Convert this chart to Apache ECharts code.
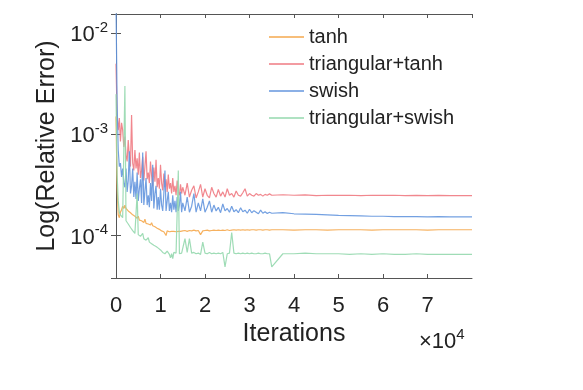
<!DOCTYPE html>
<html>
<head>
<meta charset="utf-8">
<title>Log(Relative Error)</title>
<script src="https://cdn.jsdelivr.net/npm/echarts@6/dist/echarts.min.js"></script>
<style>
  html, body { margin: 0; padding: 0; background: #fff; }
  #chart { width: 583px; height: 390px; }
</style>
</head>
<body>
<div id="chart"></div>
<script>
// iterations (x)
const iters = [
  0, 250, 500, 750, 1000, 1250, 1500, 1750, 2000, 2250,
  2500, 2750, 3000, 3250, 3500, 3750, 4000, 4250, 4500, 4750,
  5000, 5250, 5500, 5750, 6000, 6250, 6500, 6750, 7000, 7250,
  7500, 7750, 8000, 8250, 8500, 8750, 9000, 9250, 9500, 9750,
  10000, 10250, 10500, 10750, 11000, 11250, 11500, 11750, 12000, 12250,
  12500, 12750, 13000, 13250, 13500, 13750, 14000, 14250, 14500, 14750,
  15000,
  15500, 16000, 16500, 17000, 17500, 18000, 18500, 19000, 19500, 20000,
  20500, 21000, 21500, 22000, 22500, 23000, 23500, 24000, 24500, 25000,
  25500, 26000, 26500, 27000, 27500, 28000, 28500, 29000, 29500, 30000,
  30500, 31000, 31500, 32000, 32500, 33000, 33500, 34000, 34500, 35000,
  37500, 40000, 42500, 45000, 47500, 50000, 52500, 55000, 57500, 60000,
  62500, 65000, 67500, 70000, 72500, 75000, 77500, 80000
]

const tanh = [
  1.5e-3, 3e-4, 1.6e-4, 1.5e-4, 1.7e-4, 1.8e-4, 1.95e-4, 1.85e-4, 2.0e-4, 1.85e-4,
  1.9e-4, 1.75e-4, 1.8e-4, 1.68e-4, 1.72e-4, 1.6e-4, 1.66e-4, 1.55e-4, 1.6e-4, 1.48e-4,
  1.55e-4, 1.42e-4, 1.48e-4, 1.4e-4, 1.46e-4, 1.34e-4, 1.45e-4, 1.32e-4, 1.38e-4, 1.3e-4,
  1.36e-4, 1.27e-4, 1.34e-4, 1.25e-4, 1.3e-4, 1.22e-4, 1.27e-4, 1.18e-4, 1.22e-4, 1.15e-4,
  1.17e-4, 1.11e-4, 1.13e-4, 1.09e-4, 1.12e-4, 1.0e-4, 1.11e-4, 1.13e-4, 1.09e-4, 1.12e-4,
  1.1e-4, 1.13e-4, 1.1e-4, 1.12e-4, 1.09e-4, 1.13e-4, 1.1e-4, 1.12e-4, 1.1e-4, 1.12e-4,
  1.11e-4,
  1.12e-4, 1.1e-4, 1.12e-4, 1.11e-4, 1.13e-4, 1.11e-4, 1.12e-4, 1.02e-4, 1.11e-4, 1.12e-4,
  1.13e-4, 1.11e-4, 1.12e-4, 1.13e-4, 1.12e-4, 1.13e-4, 1.12e-4, 1.13e-4, 1.12e-4, 1.14e-4,
  1.12e-4, 1.13e-4, 1.14e-4, 1.13e-4, 1.14e-4, 1.13e-4, 1.14e-4, 1.13e-4, 1.14e-4, 1.13e-4,
  1.14e-4, 1.14e-4, 1.13e-4, 1.14e-4, 1.14e-4, 1.13e-4, 1.14e-4, 1.14e-4, 1.13e-4, 1.14e-4,
  1.14e-4, 1.13e-4, 1.14e-4, 1.14e-4, 1.13e-4, 1.14e-4, 1.14e-4, 1.14e-4, 1.13e-4, 1.14e-4,
  1.14e-4, 1.14e-4, 1.14e-4, 1.13e-4, 1.14e-4, 1.14e-4, 1.14e-4, 1.14e-4
]

const triTanh = [
  5e-3, 1.5e-3, 1.1e-3, 1.45e-3, 8.5e-4, 1.3e-3, 1.1e-3, 7.5e-4, 9.5e-4, 6.2e-4,
  5.4e-4, 8.8e-4, 6.0e-4, 4.8e-4, 1.55e-3, 5.2e-4, 4.4e-4, 7.0e-4, 4.6e-4, 5.8e-4,
  4.0e-4, 6.6e-4, 3.7e-4, 4.4e-4, 6.0e-4, 3.5e-4, 4.8e-4, 6.8e-4, 3.6e-4, 4.2e-4,
  3.3e-4, 5.4e-4, 3.9e-4, 3.1e-4, 4.7e-4, 3.4e-4, 5.6e-4, 3.0e-4, 3.7e-4, 2.9e-4,
  5.0e-4, 3.3e-4, 2.8e-4, 4.1e-4, 3.0e-4, 3.6e-4, 2.7e-4, 4.0e-4, 2.9e-4, 3.3e-4,
  2.6e-4, 3.7e-4, 2.7e-4, 3.1e-4, 2.5e-4, 3.5e-4, 2.7e-4, 2.5e-4, 3.2e-4, 2.6e-4,
  3.0e-4,
  2.5e-4, 3.3e-4, 2.4e-4, 2.8e-4, 3.1e-4, 2.35e-4, 2.7e-4, 3.2e-4, 2.4e-4, 2.9e-4,
  2.5e-4, 2.35e-4, 3.0e-4, 2.6e-4, 2.4e-4, 2.85e-4, 2.45e-4, 2.7e-4, 2.4e-4, 2.9e-4,
  2.5e-4, 2.6e-4, 2.4e-4, 2.75e-4, 2.5e-4, 2.45e-4, 2.65e-4, 2.9e-4, 2.45e-4, 2.6e-4,
  2.5e-4, 2.45e-4, 2.6e-4, 2.5e-4, 2.55e-4, 2.45e-4, 2.55e-4, 2.5e-4, 2.58e-4, 2.5e-4,
  2.53e-4, 2.5e-4, 2.52e-4, 2.48e-4, 2.5e-4, 2.49e-4, 2.5e-4, 2.48e-4, 2.5e-4, 2.49e-4,
  2.5e-4, 2.48e-4, 2.49e-4, 2.48e-4, 2.49e-4, 2.48e-4, 2.48e-4, 2.48e-4
]

const swish = [
  2e-2, 2e-3, 7e-4, 4.8e-4, 5.2e-4, 3.8e-4, 4.6e-4, 3.3e-4, 3.0e-4, 4.6e-4,
  2.7e-4, 3.5e-4, 6.8e-4, 2.6e-4, 3.1e-4, 4.6e-4, 2.4e-4, 3.4e-4, 2.3e-4, 4.2e-4,
  2.2e-4, 2.9e-4, 3.6e-4, 2.1e-4, 6.6e-4, 2.0e-4, 2.7e-4, 3.7e-4, 2.0e-4, 2.5e-4,
  1.9e-4, 3.3e-4, 2.2e-4, 5.0e-4, 1.85e-4, 2.6e-4, 3.1e-4, 1.8e-4, 2.4e-4, 1.8e-4,
  2.9e-4, 2.0e-4, 1.75e-4, 2.6e-4, 4.4e-4, 1.75e-4, 2.2e-4, 2.7e-4, 1.75e-4, 2.1e-4,
  1.7e-4, 2.5e-4, 1.8e-4, 2.2e-4, 1.7e-4, 2.4e-4, 1.75e-4, 2.0e-4, 2.7e-4, 1.7e-4,
  2.1e-4,
  1.75e-4, 2.4e-4, 1.7e-4, 1.95e-4, 2.6e-4, 1.7e-4, 2.1e-4, 1.75e-4, 2.3e-4, 1.7e-4,
  1.9e-4, 2.2e-4, 1.7e-4, 2.0e-4, 1.75e-4, 1.9e-4, 1.68e-4, 2.05e-4, 1.75e-4, 1.85e-4,
  1.7e-4, 1.95e-4, 1.72e-4, 1.8e-4, 1.68e-4, 1.88e-4, 1.72e-4, 1.78e-4, 1.66e-4, 1.82e-4,
  1.68e-4, 1.76e-4, 1.7e-4, 1.64e-4, 1.78e-4, 1.66e-4, 1.72e-4, 1.65e-4, 1.7e-4, 1.66e-4,
  1.68e-4, 1.64e-4, 1.63e-4, 1.62e-4, 1.6e-4, 1.58e-4, 1.57e-4, 1.56e-4, 1.55e-4, 1.55e-4,
  1.54e-4, 1.54e-4, 1.54e-4, 1.53e-4, 1.54e-4, 1.53e-4, 1.53e-4, 1.53e-4
]

const triSwish = [
  2.5e-3, 4e-4, 2.2e-4, 1.7e-4, 1.6e-4, 1.55e-4, 1.5e-4, 1.45e-4, 3.0e-3, 1.4e-4,
  1.35e-4, 1.3e-4, 1.25e-4, 1.2e-4, 1.15e-4, 1.12e-4, 1.08e-4, 1.05e-4, 1.04e-4, 2.6e-4,
  1.02e-4, 1.0e-4, 9.8e-5, 9.6e-5, 1.05e-4, 9.3e-5, 9.2e-5, 9.0e-5, 8.8e-5, 9.5e-5,
  8.6e-5, 8.5e-5, 8.3e-5, 8.2e-5, 8.0e-5, 7.9e-5, 7.8e-5, 7.6e-5, 7.5e-5, 7.4e-5,
  7.2e-5, 7.0e-5, 6.8e-5, 6.7e-5, 6.6e-5, 6.8e-5, 7.0e-5, 7.3e-5, 6.5e-5, 6.0e-5,
  6.6e-5, 5.9e-5, 6.8e-5, 6.5e-5, 6.7e-5, 6.6e-5, 4.4e-4, 6.6e-5, 6.8e-5, 6.7e-5,
  6.6e-5,
  9.3e-5, 6.8e-5, 9.3e-5, 6.7e-5, 6.8e-5, 6.6e-5, 6.7e-5, 6.5e-5, 8.6e-5, 6.7e-5,
  6.6e-5, 6.8e-5, 6.6e-5, 6.7e-5, 6.6e-5, 6.7e-5, 6.6e-5, 6.8e-5, 4.9e-5, 6.6e-5,
  6.7e-5, 1.07e-4, 6.7e-5, 6.6e-5, 6.7e-5, 6.6e-5, 6.7e-5, 6.6e-5, 6.7e-5, 6.6e-5,
  6.7e-5, 6.6e-5, 6.6e-5, 6.7e-5, 6.6e-5, 6.6e-5, 6.7e-5, 6.6e-5, 6.6e-5, 4.9e-5,
  6.6e-5, 6.6e-5, 6.7e-5, 6.6e-5, 6.6e-5, 6.6e-5, 6.5e-5, 6.6e-5, 6.5e-5, 6.6e-5,
  6.5e-5, 6.5e-5, 6.6e-5, 6.5e-5, 6.5e-5, 6.5e-5, 6.5e-5, 6.5e-5
]

const seriesNames = ['tanh', 'triangular+tanh', 'swish', 'triangular+swish']
const seriesColors = ['#F5A84E', '#EF7A82', '#6496DE', '#95D8AE']
const seriesValues = [tanh, triTanh, swish, triSwish]

const yMin = 3.8e-5
const yMax = 1.55e-2
const xMax = 80000

const FONT = '"Liberation Sans", Arial, Helvetica, sans-serif'
const TEXT = '#222'
const AXIS = '#555'

const chart = echarts.init(document.getElementById('chart'), null, { renderer: 'canvas' })

// y 轴标签：10 的上标形式
const powLabel = (v) => {
  const e = Math.round(Math.log10(v))
  return `{b|10}{s|${e}}`
}

const xAxisBase = {
  type: 'value',
  min: 0,
  max: xMax,
  interval: 10000,
  axisLine: { show: true, onZero: false, lineStyle: { color: AXIS, width: 1 } },
  axisTick: { show: true, inside: true, length: 4, lineStyle: { color: AXIS } },
  splitLine: { show: false }
}

const yAxisBase = {
  type: 'log',
  logBase: 10,
  min: yMin,
  max: yMax,
  axisLine: { show: true, lineStyle: { color: AXIS, width: 1 } },
  axisTick: { show: true, inside: true, length: 5, lineStyle: { color: AXIS } },
  splitLine: { show: false }
}

chart.setOption({
  animation: false,
  backgroundColor: '#fff',
  textStyle: { fontFamily: FONT },
  grid: { left: 116, right: 111, top: 14, bottom: 112 },
  legend: {
    orient: 'vertical',
    left: 264,
    top: 22,
    icon: 'rect',
    itemWidth: 35,
    itemHeight: 1.5,
    itemGap: 7,
    data: seriesNames,
    textStyle: { fontSize: 20, color: TEXT, fontFamily: FONT }
  },
  xAxis: [
    {
      ...xAxisBase,
      position: 'bottom',
      name: 'Iterations',
      nameLocation: 'middle',
      nameGap: 42,
      nameTextStyle: { fontSize: 25, color: TEXT, fontFamily: FONT },
      axisLabel: {
        show: true,
        margin: 17,
        fontSize: 22,
        color: TEXT,
        showMaxLabel: false,
        formatter: (v) => String(v / 10000)
      }
    },
    {
      ...xAxisBase,
      position: 'top',
      axisLabel: { show: false }
    }
  ],
  yAxis: [
    {
      ...yAxisBase,
      position: 'left',
      name: 'Log(Relative Error)',
      nameLocation: 'middle',
      nameGap: 45,
      nameTextStyle: { fontSize: 25, color: TEXT, fontFamily: FONT },
      axisLabel: {
        show: true,
        margin: 8,
        color: TEXT,
        showMinLabel: false,
        showMaxLabel: false,
        formatter: powLabel,
        rich: {
          b: { fontSize: 22, lineHeight: 26, verticalAlign: 'bottom', color: TEXT, fontFamily: FONT },
          s: { fontSize: 15, lineHeight: 15, verticalAlign: 'top', color: TEXT, fontFamily: FONT }
        }
      }
    },
    {
      ...yAxisBase,
      position: 'right',
      axisLabel: { show: false }
    }
  ],
  graphic: [
    {
      type: 'text',
      left: 419,
      top: 327,
      style: {
        text: '{a|×10}{p|4}',
        rich: {
          a: { fontSize: 22, lineHeight: 26, verticalAlign: 'bottom', fill: TEXT, fontFamily: FONT },
          p: { fontSize: 15, lineHeight: 15, verticalAlign: 'top', fill: TEXT, fontFamily: FONT }
        }
      }
    }
  ],
  series: seriesNames.map((name, i) => ({
    name,
    type: 'line',
    symbol: 'none',
    showSymbol: false,
    clip: true,
    sampling: null,
    color: seriesColors[i],
    lineStyle: { width: 1.2, color: seriesColors[i], opacity: 0.9 },
    data: iters.map((x, k) => [x, seriesValues[i][k]])
  }))
})
</script>
</body>
</html>
